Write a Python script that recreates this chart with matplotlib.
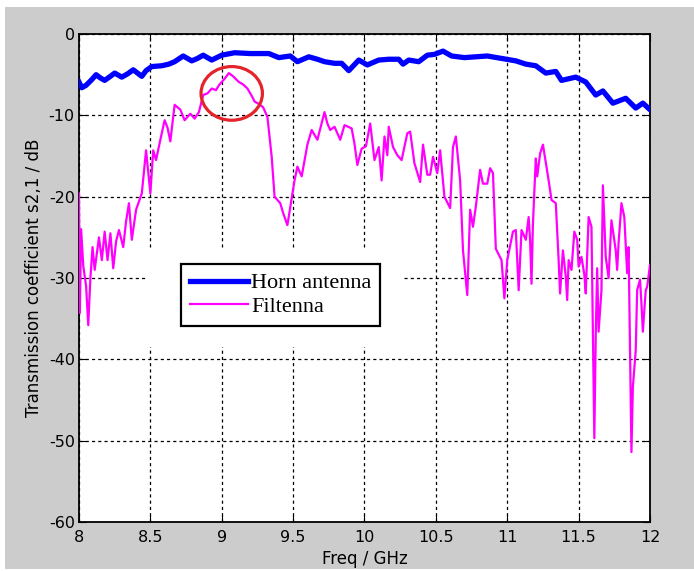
import matplotlib.pyplot as plt
from matplotlib.patches import Ellipse, Rectangle

# Horn antenna (blue)
horn_freq = [8.00, 8.02, 8.05, 8.09, 8.12, 8.15, 8.18, 8.22, 8.25, 8.30, 8.34, 8.38, 8.44, 8.47,
             8.51, 8.58, 8.63, 8.67, 8.73, 8.79, 8.83, 8.87, 8.93, 9.00, 9.09, 9.20, 9.33, 9.40,
             9.48, 9.53, 9.61, 9.67, 9.72, 9.79, 9.84, 9.89, 9.96, 10.02, 10.10, 10.17, 10.24,
             10.27, 10.31, 10.38, 10.44, 10.49, 10.55, 10.61, 10.70, 10.78, 10.86, 10.96, 11.06,
             11.13, 11.20, 11.27, 11.34, 11.38, 11.48, 11.55, 11.62, 11.67, 11.74, 11.83, 11.90,
             11.95, 12.00]
horn_db = [-5.9, -6.6, -6.3, -5.6, -5.0, -5.4, -5.7, -5.2, -4.8, -5.3, -4.9, -4.4, -5.2, -4.5,
           -4.0, -3.9, -3.7, -3.4, -2.7, -3.3, -3.0, -2.6, -3.2, -2.6, -2.3, -2.4, -2.4, -2.9,
           -2.7, -3.4, -2.8, -3.1, -3.4, -3.6, -3.6, -4.5, -3.2, -3.8, -3.2, -3.1, -3.1,
           -3.7, -3.2, -3.4, -2.6, -2.5, -2.1, -2.7, -2.9, -2.8, -2.7, -3.0, -3.3,
           -3.7, -3.9, -4.8, -4.6, -5.7, -5.3, -5.9, -7.5, -7.0, -8.5, -7.9, -9.1,
           -8.5, -9.3]

# Filtenna (magenta)
filt_freq = [8.000, 8.006, 8.015, 8.030, 8.050, 8.065, 8.080, 8.095, 8.11, 8.14, 8.16, 8.18,
             8.20, 8.22, 8.24, 8.26, 8.28, 8.31, 8.33, 8.35, 8.37, 8.40, 8.44, 8.47, 8.50, 8.52,
             8.54, 8.57, 8.60, 8.62, 8.64, 8.67, 8.71, 8.74, 8.78, 8.81, 8.84, 8.87, 8.90, 8.93,
             8.96, 8.98, 9.02, 9.05, 9.08, 9.12, 9.15, 9.18, 9.21, 9.23, 9.26, 9.29, 9.32, 9.35,
             9.37, 9.41, 9.43, 9.46, 9.49, 9.51, 9.53, 9.56, 9.60, 9.63, 9.67, 9.72, 9.74, 9.76,
             9.79, 9.83, 9.86, 9.91, 9.93, 9.95, 9.98, 10.01, 10.04, 10.07, 10.10, 10.12, 10.14,
             10.16, 10.17, 10.20, 10.23, 10.26, 10.30, 10.32, 10.35, 10.39, 10.41, 10.44, 10.46,
             10.48, 10.51, 10.53, 10.56, 10.60, 10.62, 10.64, 10.67, 10.69, 10.72, 10.74, 10.76,
             10.78, 10.81, 10.83, 10.86, 10.88, 10.90, 10.92, 10.96, 10.98, 11.00, 11.04, 11.06,
             11.08, 11.10, 11.13, 11.15, 11.16, 11.17, 11.18, 11.20, 11.21, 11.23, 11.25, 11.29,
             11.31, 11.34, 11.36, 11.37, 11.39, 11.41, 11.42, 11.43, 11.45, 11.47, 11.49, 11.50,
             11.52, 11.54, 11.55, 11.57, 11.59, 11.60, 11.61, 11.62, 11.63, 11.64, 11.66, 11.67,
             11.69, 11.71, 11.73, 11.76, 11.77, 11.78, 11.80, 11.82, 11.84, 11.85, 11.86, 11.87,
             11.88, 11.90, 11.91, 11.93, 11.94, 11.95, 11.97, 11.98, 12.00]
filt_db = [-19.6, -34.3, -24.0, -28.5, -31.0, -35.8, -30.0, -26.2, -29.0, -25.0, -27.8, -24.3,
           -27.8, -24.5, -28.8, -25.5, -24.1, -26.2, -23.0, -20.8, -25.3, -21.6, -19.6, -14.3, -19.6, -14.3,
           -15.5, -13.0, -10.6, -11.5, -13.2, -8.7, -9.3, -10.6, -9.8, -10.4, -9.6, -7.5, -7.3, -6.7,
           -6.9, -6.3, -5.5, -4.8, -5.2, -5.9, -6.2, -6.7, -7.6, -8.3, -8.6, -9.0, -10.2, -15.1,
           -20.0, -20.8, -22.0, -23.5, -20.2, -18.0, -16.3, -17.5, -13.6, -11.8, -13.0, -9.6, -11.0, -11.8,
           -11.4, -13.0, -11.2, -11.6, -13.5, -16.1, -14.1, -13.8, -11.0, -15.5, -13.9, -18.0, -12.6,
           -14.9, -11.4, -13.9, -14.9, -15.5, -12.2, -12.0, -15.9, -18.2, -13.6, -17.3, -17.3,
           -15.1, -17.1, -14.3, -20.0, -21.4, -13.9, -12.6, -18.0, -26.6, -32.1, -21.6, -23.7,
           -21.2, -16.7, -18.4, -18.4, -16.5, -17.1, -26.4, -27.8, -32.5, -27.8, -24.3, -24.1,
           -31.5, -24.1, -25.3, -22.5, -25.3, -30.7, -23.3, -15.3, -17.5, -14.7, -13.6, -18.0,
           -20.4, -20.8, -27.8, -31.9, -26.6, -29.8, -32.7, -27.8, -29.0, -24.3, -25.3, -28.6,
           -27.4, -29.6, -31.9, -22.5, -23.7, -37.0, -49.7, -37.0, -28.8, -36.6, -31.5, -18.6,
           -27.4, -30.0, -22.9, -26.6, -29.0, -25.7, -20.8, -22.5, -29.4, -26.2, -38.7, -51.4,
           -43.4, -38.9, -31.5, -30.2, -33.1, -36.6, -31.5, -31.1, -28.4]

x_ticks = [8, 8.5, 9, 9.5, 10, 10.5, 11, 11.5, 12]
x_tick_labels = ['8', '8.5', '9', '9.5', '10', '10.5', '11', '11.5', '12']
y_ticks = [-60, -50, -40, -30, -20, -10, 0]

# circled peak
circle_center = (9.07, -7.3)
circle_size = (0.43, 6.6)

plt.rcParams['axes.unicode_minus'] = False
plt.rcParams['font.family'] = 'DejaVu Sans'

fig = plt.figure(figsize=(6.94, 5.71), dpi=100, facecolor='#cccccc')
ax = fig.add_axes([0.1138, 0.0858, 0.8228, 0.8546])
ax.set_facecolor('white')

ax.plot(horn_freq, horn_db, color='#0000ff', lw=3.8, label='Horn antenna', zorder=3)
ax.plot(filt_freq, filt_db, color='#ff00ff', lw=1.6, label='Filtenna', zorder=3)

ax.add_patch(Ellipse(circle_center, circle_size[0], circle_size[1], fill=False,
                     edgecolor='#e3242b', lw=2.3, zorder=4))

ax.set_xlim(8, 12)
ax.set_ylim(-60, 0)
ax.set_xticks(x_ticks)
ax.set_xticklabels(x_tick_labels)
ax.set_yticks(y_ticks)
ax.set_axisbelow(True)
ax.grid(True, color='black', linestyle=(0, (2.5, 2.5)), lw=0.9)

# MATLAB clears the grid around the legend
ax.add_patch(Rectangle((0.121, 0.359), 0.446, 0.2, transform=ax.transAxes,
                       facecolor='white', edgecolor='none', zorder=1))

ax.tick_params(direction='in', length=5, top=True, right=True, labelsize=11.5, pad=6)
ax.tick_params(axis='y', pad=3)
for sp in ax.spines.values():
    sp.set_linewidth(1.3)

ax.set_xlabel('Freq / GHz', fontsize=12, labelpad=3)
ax.set_ylabel('Transmission coefficient s2,1 / dB', fontsize=12, labelpad=4)

leg = ax.legend(loc='upper left', bbox_to_anchor=(0.179, 0.529), borderaxespad=0,
                prop={'family': 'Liberation Serif', 'size': 16}, fancybox=False,
                framealpha=1, edgecolor='black', handlelength=2.6, handletextpad=0.15,
                borderpad=0.4, labelspacing=0.15)
leg.get_frame().set_linewidth(1.6)

# white strips round the grey figure area
for r in [(0, 0, 0.0072, 1), (0, 0.9877, 1, 0.0123), (0, 0, 1, 0.004)]:
    fig.patches.append(Rectangle((r[0], r[1]), r[2], r[3], transform=fig.transFigure,
                                 facecolor='white', edgecolor='none', zorder=10))

fig.savefig('out.png', dpi=100, facecolor=fig.get_facecolor())
